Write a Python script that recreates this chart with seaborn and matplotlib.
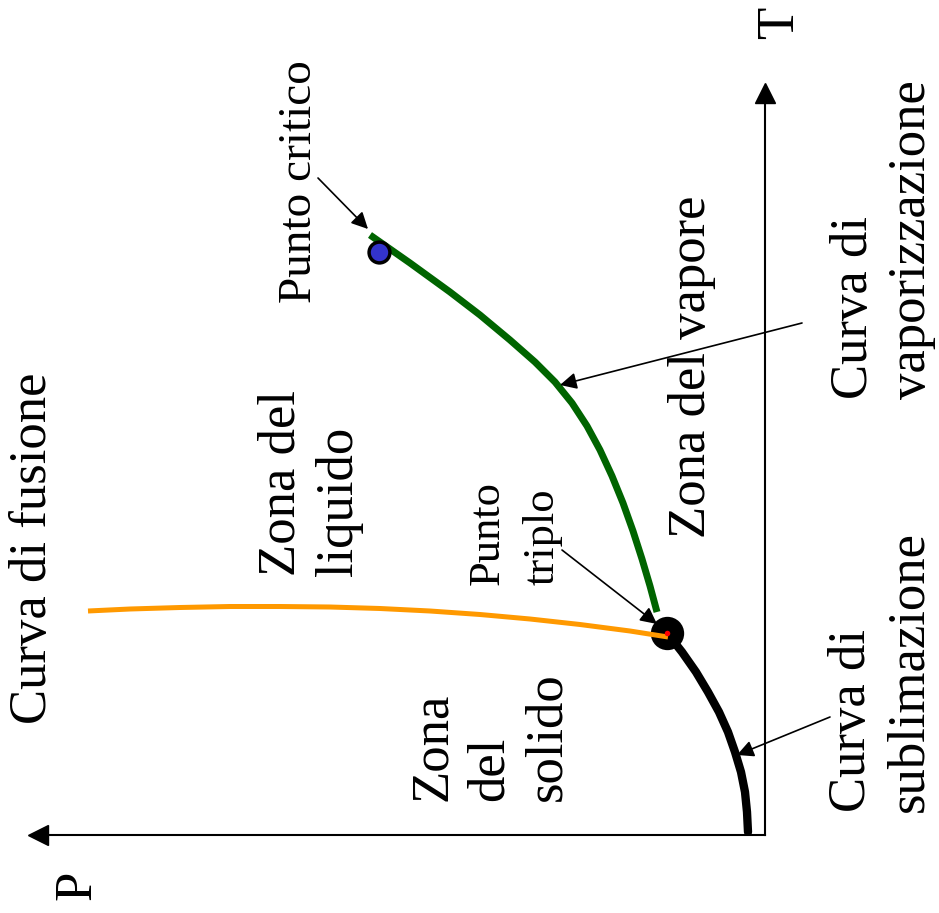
import matplotlib
matplotlib.use("Agg")
import seaborn as sns
from matplotlib import pyplot as plt

# Phase diagram (drawn rotated: T points up, P points left)
# values in arbitrary diagram units, origin at the axes corner
subl_p = [17, 18, 20, 24, 30, 37, 46, 57, 69, 83, 98]
subl_t = [3, 23, 43, 63, 83, 103, 123, 143, 163, 183, 202]

vap_p = [395, 355, 315, 285, 255, 230, 210, 193, 178, 165, 153, 142, 132, 123, 115, 108]
vap_t = [600, 572, 543, 520, 495, 473, 453, 432, 409, 385, 359, 332, 304, 276, 249, 223]

fus_p = [677, 635, 585, 535, 485, 435, 385, 335, 285, 235, 185, 135, 97]
fus_t = [224, 226, 227.5, 228.5, 228.5, 228, 226.5, 224, 220.5, 216, 210.5, 204, 198]

triple_p, triple_t = [98], [202]
critical_p, critical_t = [386], [583]

SERIF = ["Liberation Serif", "DejaVu Serif"]

sns.set_style("white")
plt.rcParams["font.family"] = SERIF

fig = plt.figure(figsize=(9.39, 9.13), dpi=100)
ax = fig.add_axes([38 / 939, 78 / 913, (765 - 38) / 939, (835 - 93) / 913])
ax.set_xlim(727, 0)
ax.set_ylim(0, 742)
ax.set_xticks([])
ax.set_yticks([])
sns.despine(ax=ax, left=True, top=True, right=False, bottom=False)
for side in ("right", "bottom"):
    ax.spines[side].set_linewidth(1.5)
    ax.spines[side].set_color("black")
ax.plot(0, 0, marker="<", ms=14, color="black", transform=ax.transAxes, clip_on=False)
ax.plot(1, 1, marker="^", ms=14, color="black", transform=ax.transAxes, clip_on=False)

sns.lineplot(x=subl_p, y=subl_t, sort=False, estimator=None, color="black",
             lw=6, ax=ax, zorder=3)
sns.lineplot(x=vap_p, y=vap_t, sort=False, estimator=None, color="#006400",
             lw=5, ax=ax, zorder=3, solid_capstyle="butt")
sns.scatterplot(x=triple_p, y=triple_t, s=24 ** 2, color="black", linewidth=0,
                ax=ax, zorder=4)
sns.lineplot(x=fus_p, y=fus_t, sort=False, estimator=None, color="#FF9900",
             lw=3.6, ax=ax, zorder=5, solid_capstyle="butt")
sns.scatterplot(x=triple_p, y=triple_t, s=4 ** 2, color="red", linewidth=0,
                ax=ax, zorder=6)
sns.scatterplot(x=critical_p, y=critical_t, s=15 ** 2, color="#3333CC",
                edgecolor="black", linewidth=2.5, ax=ax, zorder=4)

big = dict(rotation=90, ha="center", va="center", fontsize=38,
           multialignment="left", linespacing=1.25, color="black")
ax.text(732, 287, "Curva di fusione", **big)
ax.text(455, 352, "Zona del\nliquido", **big)
ax.text(275, 98, "Zona\ndel\nsolido", **big)
ax.text(73, 468, "Zona del vapore", **big)
ax.text(-118, 595, "Curva di\nvaporizzazione", **big)
ax.text(-116, 163, "Curva di\nsublimazione", **big)
ax.text(688, -50, "P", **big)
ax.text(-15, 812, "T", **big)

small = dict(big, fontsize=34)
ax.text(465, 653, "Punto critico", **small)
ax.text(250, 302, "Punto\ntriplo", **dict(small, fontsize=32, linespacing=1.5))

arrow = dict(arrowstyle="-|>", mutation_scale=25, lw=1.2, color="black",
             shrinkA=0, shrinkB=0)
ax.annotate("", xy=(397, 606), xytext=(447, 657), arrowprops=arrow, annotation_clip=False)
ax.annotate("", xy=(108, 211), xytext=(203, 285), arrowprops=arrow, annotation_clip=False)
ax.annotate("", xy=(205, 450), xytext=(-37, 512), arrowprops=arrow, annotation_clip=False)
ax.annotate("", xy=(28, 80), xytext=(-65, 118), arrowprops=arrow, annotation_clip=False)

fig.savefig("out.png", dpi=100)
